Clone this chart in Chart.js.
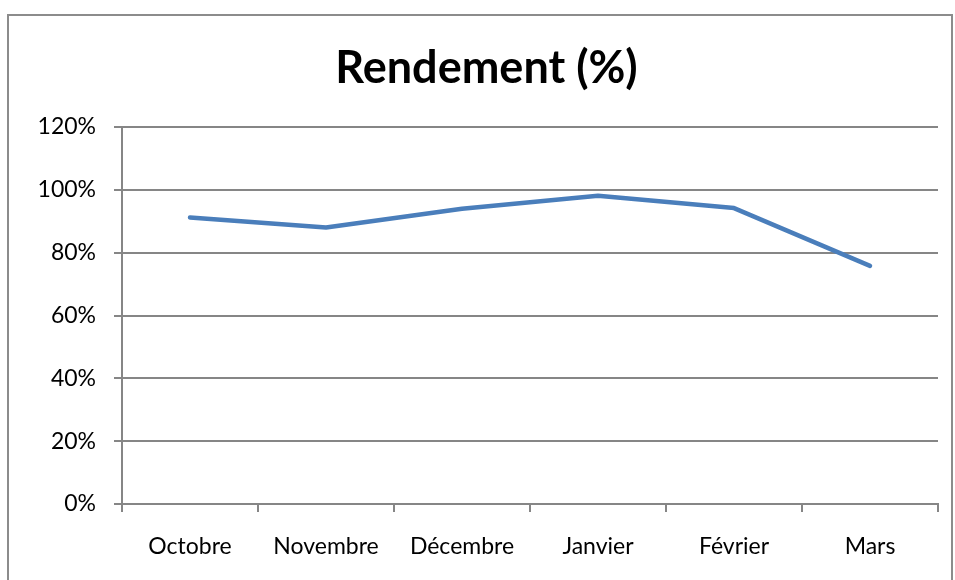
<!DOCTYPE html>
<html lang="fr">
<head>
  <meta charset="UTF-8" />
  <title>Rendement (%)</title>
  <style>
    html, body { margin: 0; padding: 0; background: white; }
    #wrap { position: relative; width: 955px; height: 580px; overflow: hidden; }
    #frame {
      position: absolute; left: 7px; top: 14px; width: 946px; height: 620px;
      border: 2px solid #8c8c8c; box-sizing: border-box;
    }
    #chart { position: absolute; left: 0; top: 0; }
  </style>
</head>
<body>
  <div id="wrap">
    <div id="frame"></div>
    <canvas id="chart" width="955" height="580"></canvas>
  </div>

  <script src="https://cdn.jsdelivr.net/npm/chart.js"></script>
  <script>
    const months = ['Octobre', 'Novembre', 'Décembre', 'Janvier', 'Février', 'Mars'];
    const rendement = [91.2, 88.0, 94.0, 98.1, 94.2, 75.8];
    const yTicks = [0, 20, 40, 60, 80, 100, 120];

    const font = 'Lato, "Open Sans", sans-serif';
    const gridColor = '#868686';

    const ctx = document.getElementById('chart').getContext('2d');
    new Chart(ctx, {
      type: 'line',
      data: {
        labels: months,
        datasets: [{
          label: 'Rendement (%)',
          data: rendement,
          borderColor: '#4a7ebb',
          borderWidth: 4.5,
          borderCapStyle: 'round',
          borderJoinStyle: 'round',
          pointRadius: 0,
          tension: 0,
          fill: false
        }]
      },
      options: {
        responsive: false,
        animation: false,
        // left padding shifts the title centre to the right like the original
        layout: { padding: { left: 18, right: 0, top: 0, bottom: 0 } },
        plugins: {
          legend: { display: false },
          tooltip: { enabled: false },
          title: {
            display: true,
            text: 'Rendement (%)',
            color: '#000',
            font: { family: font, size: 45, weight: 'bold' },
            padding: { top: 41, bottom: 32 }
          }
        },
        scales: {
          x: {
            offset: true,
            grid: { offset: true, drawOnChartArea: false, color: gridColor, lineWidth: 2, tickLength: 8 },
            border: { display: true, color: gridColor, width: 2 },
            ticks: { color: '#000', font: { family: font, size: 23 }, padding: 21, maxRotation: 0 },
            afterFit: (scale) => { scale.height = 76; scale.paddingRight = 17; }
          },
          y: {
            min: 0,
            max: 120,
            afterBuildTicks: (scale) => { scale.ticks = yTicks.map(v => ({ value: v })); },
            grid: { color: gridColor, lineWidth: 2, tickLength: 8 },
            border: { display: true, color: gridColor, width: 2 },
            ticks: {
              color: '#000',
              font: { family: font, size: 23 },
              padding: 18,
              callback: (v) => v + '%'
            },
            afterFit: (scale) => { scale.width = 104; }
          }
        }
      }
    });
  </script>
</body>
</html>
